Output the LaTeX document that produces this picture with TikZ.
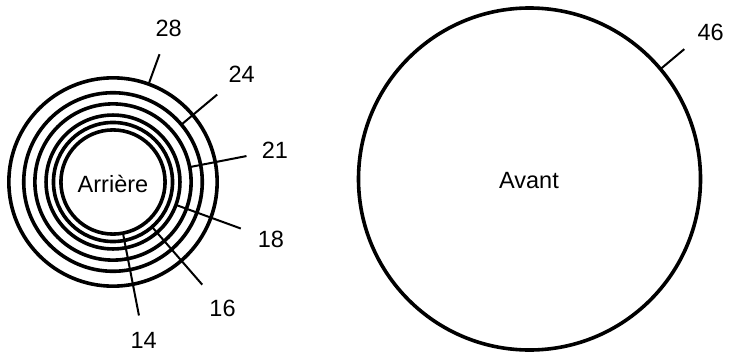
\documentclass[tikz,border=0pt]{standalone}
\usepackage{fontspec}
\setmainfont{Liberation Sans}
\begin{document}
\begin{tikzpicture}[x=1pt,y=1pt,
  gear/.style={circle,draw,line width=3.6pt,inner sep=0pt,outer sep=0pt},
  leader/.style={line width=2pt},
  lbl/.style={font=\fontsize{23.5}{27}\selectfont,inner sep=0pt}]
\useasboundingbox (0,0) rectangle (730,354);
\coordinate (L) at (113,172);
\coordinate (R) at (529.5,175);
\foreach \t/\a/\r in {28/70/163,24/40/168,21/11/165,18/-20/168,16/-49/167,14/-79/161}{
  \node[gear,minimum size={2*3.72*\t pt}] (c\t) at (L) {};
  \coordinate (e\t) at ([shift={(\a:136)}]L);
  \draw[leader] (c\t.\a) -- (e\t);
  \node[lbl] (n\t) at ([shift={(\a:\r)}]L) {\t};
}
\node[lbl] (arr) at (113,170) {Arrière};
\node[gear,minimum size=342pt] (c46) at (R) {};
\coordinate (e46) at ([shift={(40:202)}]R);
\draw[leader] (c46.40) -- (e46);
\node[lbl] (n46) at ([shift={(39:233)}]R) {46};
\node[lbl] (av) at (529,173) {Avant};
\end{tikzpicture}
\end{document}
